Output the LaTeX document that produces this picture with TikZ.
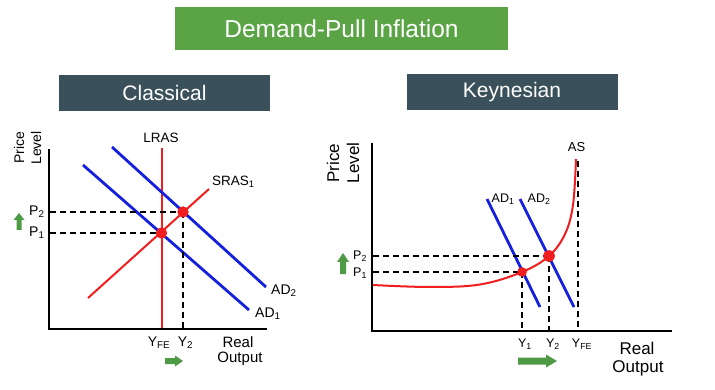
\documentclass[tikz,border=0pt]{standalone}
\usepackage{fontspec}
\setmainfont{Liberation Sans}
\definecolor{titlegreen}{HTML}{5AA446}
\definecolor{arrgreen}{HTML}{4F9A45}
\definecolor{slate}{HTML}{3A505A}
\definecolor{cred}{HTML}{F01E1E}
\definecolor{cblue}{HTML}{1420DC}
\tikzset{
  fs/.style={font=\fontsize{#1}{#1}\selectfont},
  axis/.style={draw=black,line width=2.2pt},
  redline/.style={draw=cred,line width=2pt},
  blueline/.style={draw=cblue,line width=2.8pt},
  dashline/.style={draw=black,line width=1.8pt,dash pattern=on 6pt off 4pt},
  dot/.style={circle,fill=cred,inner sep=0pt,minimum size=#1},
  lbl/.style={inner sep=0pt,text=black},
  headbox/.style={fill=slate,text=white,inner sep=0pt,minimum height=36pt,minimum width=211pt,fs=21},
  garrow/.style={fill=arrgreen,draw=none}
}
\begin{document}
\begin{tikzpicture}[x=1pt,y=-1pt]
\useasboundingbox (0,0) rectangle (715,390);
\fill[white] (0,0) rectangle (715,390);
% title
\node[fill=titlegreen,text=white,inner sep=0pt,minimum width=333pt,minimum height=43pt,fs=24.5] (title) at (341.5,28.5) {Demand-Pull Inflation};
\node[headbox] (hcl) at (164.5,93) {Classical};
\node[headbox] (hke) at (512,92.5) {Keynesian};

% ================= Classical =================
\coordinate (cO) at (49,329);
\coordinate (cYtop) at (49,149);
\coordinate (cXend) at (267,329);
\draw[axis] (cYtop) -- (cO) -- (cXend);
% LRAS
\coordinate (lrasT) at (162,148);
\coordinate (lrasB) at (162,328);
\draw[redline] (lrasT) -- (lrasB);
% SRAS
\coordinate (srasA) at (88,298);
\coordinate (srasB) at (209,189);
\draw[redline] (srasA) -- (srasB);
% AD1, AD2
\coordinate (ad1A) at (83,165);
\coordinate (ad1B) at (249,310);
\coordinate (ad2A) at (112,147);
\coordinate (ad2B) at (266,287);
\draw[blueline] (ad1A) -- (ad1B);
\draw[blueline] (ad2A) -- (ad2B);
% equilibria
\node[dot=11pt] (ce1) at (161.5,233) {};
\node[dot=11pt] (ce2) at (183,212) {};
\coordinate (cp1) at (50,233);
\coordinate (cp2) at (50,212);
\coordinate (cy2) at (183,328);
\draw[dashline] (cp2) -- (ce2.center);
\draw[dashline] (cp1) -- (ce1.center);
\draw[dashline] (ce2.center) -- (cy2);
\fill[cred] (ce1) circle (5.5pt);
\fill[cred] (ce2) circle (5.5pt);
% labels
\node[lbl,fs=13.5] (tlras) at (161,138) {LRAS};
\node[lbl,fs=13.5,anchor=west] (tsras) at (212,182) {SRAS\textsubscript{1}};
\node[lbl,fs=14,anchor=west] (tad2) at (271,291) {AD\textsubscript{2}};
\node[lbl,fs=14,anchor=west] (tad1) at (255,314) {AD\textsubscript{1}};
\node[lbl,fs=14,anchor=west] (tp2) at (29,212) {P\textsubscript{2}};
\node[lbl,fs=14,anchor=west] (tp1) at (29,233) {P\textsubscript{1}};
\node[lbl,fs=14] (tyfe) at (159,343) {Y\textsubscript{FE}};
\node[lbl,fs=14] (ty2) at (185.5,343) {Y\textsubscript{2}};
\node[lbl,fs=15] (treal) at (238,342) {Real};
\node[lbl,fs=15] (tout) at (240,359) {Output};
\node[lbl,fs=14,rotate=90,align=center,font=\fontsize{14}{17}\selectfont] (tprice) at (27.5,148) {Price\\Level};
% green arrows
\fill[garrow] (19,213) -- (24.5,220) -- (21.5,220) -- (21.5,230) -- (16.5,230) -- (16.5,220) -- (13.5,220) -- cycle;
\fill[garrow] (183,361) -- (175,355.5) -- (175,358) -- (165,358) -- (165,364) -- (175,364) -- (175,366.5) -- cycle;

% ================= Keynesian =================
\coordinate (kO) at (372,331);
\coordinate (kYtop) at (372,143);
\coordinate (kXend) at (672,331);
\draw[axis] (kYtop) -- (kO) -- (kXend);
% YFE dashed
\coordinate (kfeT) at (578,161);
\coordinate (kfeB) at (578,330);
\draw[dashline] (kfeT) -- (kfeB);
% AS curve
\draw[redline] plot[smooth,tension=0.6] coordinates {(373,285) (430,287) (480,284.5) (522,272) (549,256) (565,234) (573,205) (576,159)};
% AD
\coordinate (kad1A) at (487,199);
\coordinate (kad1B) at (540,307);
\coordinate (kad2A) at (520,199);
\coordinate (kad2B) at (574,307);
\draw[blueline] (kad1A) -- (kad1B);
\draw[blueline] (kad2A) -- (kad2B);
% equilibria
\node[dot=9pt] (ke1) at (522,272) {};
\node[dot=11pt] (ke2) at (549,256) {};
\coordinate (kp1) at (373,272);
\coordinate (kp2) at (373,256);
\coordinate (ky1) at (522,330);
\coordinate (ky2) at (549,330);
\draw[dashline] (kp2) -- (ke2.center);
\draw[dashline] (kp1) -- (ke1.center);
\draw[dashline] (ke1.center) -- (ky1);
\draw[dashline] (ke2.center) -- (ky2);
\fill[cred] (ke1) circle (4.8pt);
\fill[cred] (ke2) circle (5.8pt);
% labels
\node[lbl,fs=13] (tas) at (576.5,147) {AS};
\node[lbl,fs=12.5,anchor=west] (tkad1) at (491.5,199) {AD\textsubscript{1}};
\node[lbl,fs=12.5,anchor=west] (tkad2) at (527.5,199) {AD\textsubscript{2}};
\node[lbl,fs=12.5,anchor=west] (tkp2) at (353,256) {P\textsubscript{2}};
\node[lbl,fs=12.5,anchor=west] (tkp1) at (353,273) {P\textsubscript{1}};
\node[lbl,fs=12.5] (tky1) at (525,344) {Y\textsubscript{1}};
\node[lbl,fs=12.5] (tky2) at (553,344) {Y\textsubscript{2}};
\node[lbl,fs=12.5] (tkyfe) at (582,344) {Y\textsubscript{FE}};
\node[lbl,fs=17] (tkreal) at (637,348) {Real};
\node[lbl,fs=17] (tkout) at (638,368) {Output};
\node[lbl,rotate=90,align=center,font=\fontsize{17}{20}\selectfont] (tkprice) at (343,163) {Price\\Level};
% green arrows
\fill[garrow] (343,253) -- (349,262) -- (346,262) -- (346,274) -- (340,274) -- (340,262) -- (337,262) -- cycle;
\fill[garrow] (557,361) -- (546,354.5) -- (546,357.5) -- (518,357.5) -- (518,364.5) -- (546,364.5) -- (546,367.5) -- cycle;
\end{tikzpicture}
\end{document}
